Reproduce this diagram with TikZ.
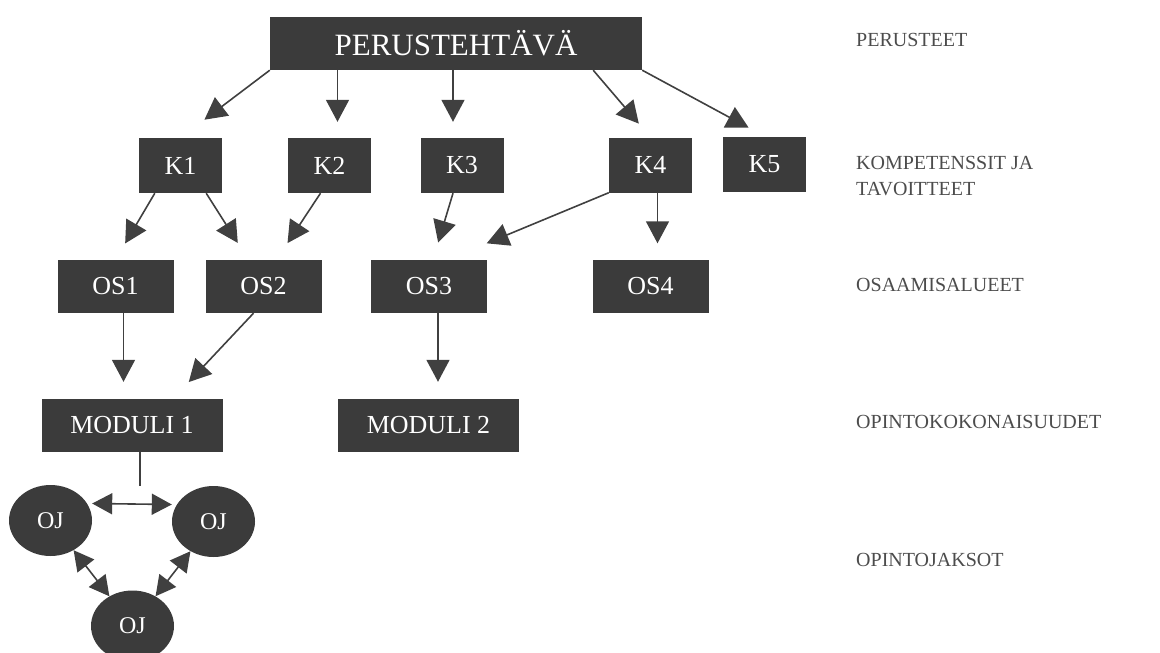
\documentclass[tikz,border=0pt]{standalone}
\usepackage{fontspec}
\setmainfont{Liberation Serif}
\usetikzlibrary{arrows.meta,shapes.geometric}
\begin{document}
\begin{tikzpicture}[x=1pt, y=-1pt,
    box/.style={fill=black!77, text=white, inner sep=0pt, font=\fontsize{26}{29}\selectfont},
    kbox/.style={box, minimum width=83pt, minimum height=55pt},
    osbox/.style={box, minimum width=116pt, minimum height=53pt},
    modbox/.style={box, minimum width=181pt, minimum height=53pt},
    ojnode/.style={ellipse, fill=black!77, text=white, inner sep=0pt, minimum width=83pt, minimum height=71pt, font=\fontsize{24}{27}\selectfont},
    level/.style={anchor=west, inner sep=0pt, text=black!70, align=left, font=\fontsize{20}{26}\selectfont},
    arr/.style={-{Triangle[length=22pt,width=23pt]}, line width=1.6pt, draw=black!75},
    dblarr/.style={{Triangle[length=20pt,width=21pt]}-{Triangle[length=20pt,width=21pt]}, line width=1.6pt, draw=black!75}]
    \useasboundingbox (0,0) rectangle (1160,653);
    % boxes
    \node[box, minimum width=372pt, minimum height=53pt, font=\fontsize{31}{34}\selectfont] (top) at (456,43.5) {PERUSTEHTÄVÄ};
    \node[kbox] (k1) at (180.5,165.5) {K1};
    \node[kbox] (k2) at (329.5,165.5) {K2};
    \node[kbox] (k3) at (462,165.5) {K3};
    \node[kbox] (k4) at (650.5,165) {K4};
    \node[kbox] (k5) at (764.5,164) {K5};
    \node[osbox] (os1) at (115.5,286.5) {OS1};
    \node[osbox] (os2) at (263.5,286.5) {OS2};
    \node[osbox] (os3) at (429,286.5) {OS3};
    \node[osbox] (os4) at (650.5,286) {OS4};
    \node[modbox] (mod1) at (132,425.5) {MODULI 1};
    \node[modbox] (mod2) at (428.5,425.5) {MODULI 2};
    \node[ojnode] (ojl) at (50.5,520.5) {OJ};
    \node[ojnode] (ojr) at (213.5,521.5) {OJ};
    \node[ojnode] (ojb) at (132.5,626) {OJ};
    \coordinate (ojtop) at (140,486);
    % levels
    \node[level] (lv1) at (856,40) {PERUSTEET};
    \node[level] (lv2) at (856,176.5) {KOMPETENSSIT JA\\TAVOITTEET};
    \node[level] (lv3) at (856,285) {OSAAMISALUEET};
    \node[level] (lv4) at (856,422) {OPINTOKOKONAISUUDET};
    \node[level] (lv5) at (856,560) {OPINTOJAKSOT};
    % arrows
    \draw[arr, shorten >=30pt] (top.south west) -- (k1.north);
    \draw[arr, shorten >=16pt] ([xshift=8pt]top.south -| k2.north) -- ([xshift=8pt]k2.north);
    \draw[arr, shorten >=16pt] ([xshift=-9pt]top.south -| k3.north) -- ([xshift=-9pt]k3.north);
    \draw[arr, shorten >=18pt] ([xshift=-49pt]top.south east) -- (k4.north);
    \draw[arr, shorten >=18pt] (top.south east) -- (k5.north);
    \draw[arr, shorten >=19pt] ([xshift=16pt]k1.south west) -- (os1.north);
    \draw[arr, shorten >=20pt] ([xshift=-16pt]k1.south east) -- ([xshift=-15pt]os2.north);
    \draw[arr, shorten >=20pt] ([xshift=-9pt]k2.south) -- ([xshift=13pt]os2.north);
    \draw[arr, shorten >=18pt] ([xshift=-9pt]k3.south) -- ([xshift=4pt]os3.north);
    \draw[arr, shorten >=43pt] (k4.south west) -- ([xshift=18pt]os3.north);
    \draw[arr, shorten >=16pt] ([xshift=7pt]k4.south) -- ([xshift=7pt]os4.north);
    \draw[arr, shorten >=17pt] ([xshift=8pt]os1.south) -- ([xshift=8pt]os1.south |- mod1.north);
    \draw[arr, shorten >=23pt] ([xshift=-10pt]os2.south) -- ([xshift=41pt]mod1.north);
    \draw[arr, shorten >=17pt] ([xshift=9pt]os3.south) -- ([xshift=9pt]os3.south |- mod2.north);
    \draw[line width=1.6pt, draw=black!75] ([xshift=8pt]mod1.south) -- (ojtop);
    \draw[dblarr] ([yshift=17pt]ojl.east) -- ([yshift=17pt]ojr.west);
    \draw[dblarr] (ojl) -- (ojb);
    \draw[dblarr] (ojr) -- (ojb);
\end{tikzpicture}
\end{document}
